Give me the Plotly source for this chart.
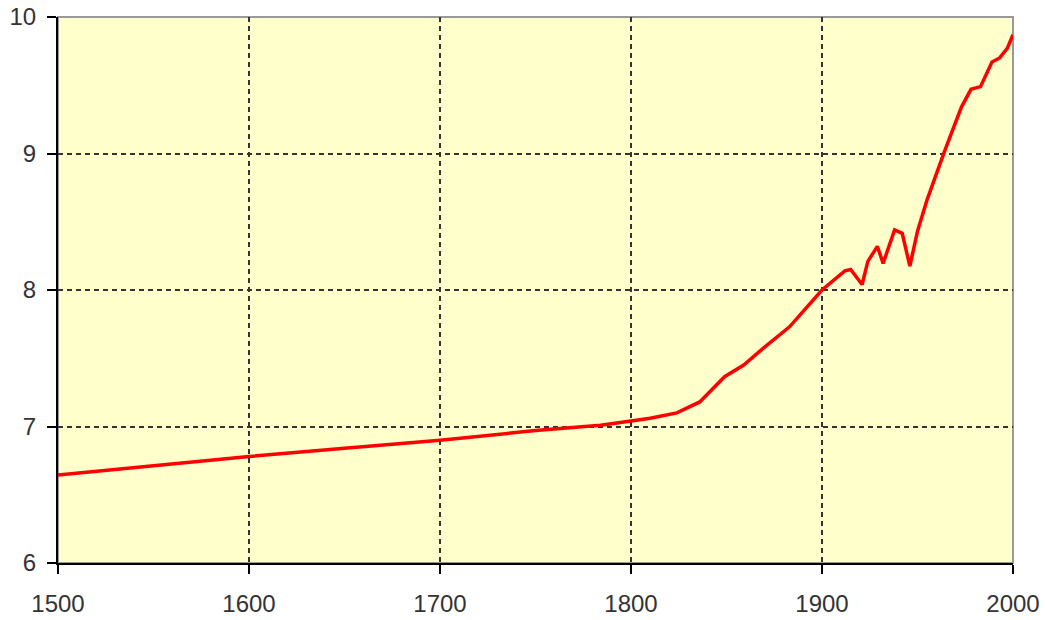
import plotly.graph_objects as go

years = [1500, 1550, 1600, 1650, 1700, 1750, 1784, 1800, 1810, 1824, 1836, 1849, 1859, 1869,
         1883, 1900, 1912, 1915, 1921, 1924, 1929, 1932, 1938, 1942, 1946, 1950, 1955,
         1964, 1968, 1973, 1978, 1983, 1989, 1993, 1997, 2000]
values = [6.645, 6.715, 6.78, 6.84, 6.90, 6.97, 7.01, 7.04, 7.06, 7.10, 7.18, 7.365, 7.45, 7.57,
          7.73, 8.0, 8.14, 8.15, 8.04, 8.21, 8.32, 8.195, 8.44, 8.415, 8.175, 8.43, 8.66,
          9.01, 9.15, 9.34, 9.47, 9.49, 9.67, 9.70, 9.77, 9.87]

x_ticks = [1500, 1600, 1700, 1800, 1900, 2000]
y_ticks = [6, 7, 8, 9, 10]

fig = go.Figure()
fig.add_trace(go.Scatter(x=years, y=values, mode="lines",
                         line=dict(color="#ff0000", width=3.5), showlegend=False))

font = dict(family="Liberation Sans, Arial, sans-serif", size=24, color="#333333")

axis_common = dict(showgrid=True, gridcolor="#333333", griddash="5px,4px", gridwidth=2,
                   showline=True, linecolor="#000000", linewidth=2,
                   ticks="outside", ticklen=9, tickcolor="#000000", tickwidth=2,
                   zeroline=False, automargin=False)

fig.update_layout(
    width=1045, height=620,
    margin=dict(l=58, r=32, t=17, b=57),
    paper_bgcolor="white",
    plot_bgcolor="#ffffcc",
    font=font,
    xaxis=dict(range=[1500, 2000], tickvals=x_ticks, ticklabelstandoff=9, **axis_common),
    yaxis=dict(range=[6, 10], tickvals=y_ticks, ticklabelstandoff=6, **axis_common),
)
fig.add_shape(type="rect", xref="paper", yref="paper", x0=0, y0=0, x1=1, y1=1,
              line=dict(color="#999999", width=2), layer="below")

fig.write_html("out.html", config={"displayModeBar": False},
               post_script="document.body.style.margin='0';")
